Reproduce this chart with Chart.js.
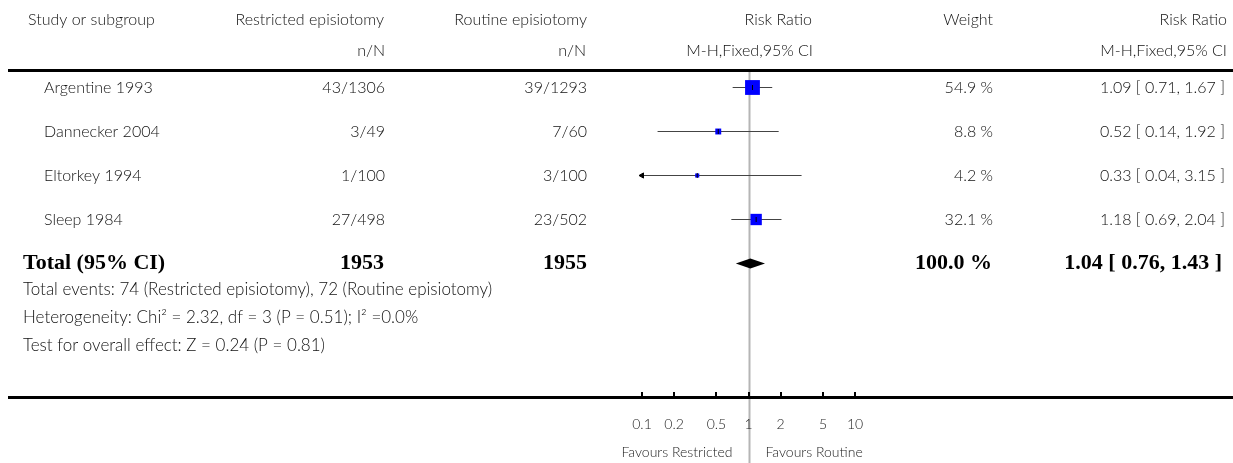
<!DOCTYPE html>
<html>
<head>
<meta charset="utf-8">
<script src="https://cdn.jsdelivr.net/npm/chart.js@4.4.1/dist/chart.umd.min.js"></script>
<style>
  body { margin: 0; background: #fff; }
  canvas { display: block; }
</style>
</head>
<body>
<canvas id="forest" width="1233" height="463"></canvas>
<script>
// study data
const studies = ['Argentine 1993', 'Dannecker 2004', 'Eltorkey 1994', 'Sleep 1984'];
const restricted = ['43/1306', '3/49', '1/100', '27/498'];
const routine = ['39/1293', '7/60', '3/100', '23/502'];
const rr = [1.09, 0.52, 0.33, 1.18];
const ciLow = [0.71, 0.14, 0.04, 0.69];
const ciHigh = [1.67, 1.92, 3.15, 2.04];
const weights = [54.9, 8.8, 4.2, 32.1];

// pooled result
const totalLabel = 'Total (95% CI)';
const totalN = ['1953', '1955'];
const totalRR = 1.04;
const totalLow = 0.76;
const totalHigh = 1.43;
const totalWeight = '100.0 %';

const footnotes = [
  'Total events: 74 (Restricted episiotomy), 72 (Routine episiotomy)',
  'Heterogeneity: Chi² = 2.32, df = 3 (P = 0.51); I² =0.0%',
  'Test for overall effect: Z = 0.24 (P = 0.81)'
];

const xTicks = [0.1, 0.2, 0.5, 1, 2, 5, 10];
const xTickLabels = ['0.1', '0.2', '0.5', '1', '2', '5', '10'];
const X_MIN = 0.1, X_MAX = 10;

const SANS = 'Lato, "Open Sans", sans-serif';
const SERIF = '"Liberation Serif", "DejaVu Serif", serif';
const TEXT = '#111';

function fmt(v) { return v.toFixed(2); }
function ciText(m, l, h) { return fmt(m) + ' [ ' + fmt(l) + ', ' + fmt(h) + ' ]'; }

// one line dataset per study CI, clipped at the axis range
const ciSets = studies.map((s, i) => ({
  type: 'line',
  data: [{ x: Math.max(ciLow[i], X_MIN), y: i }, { x: Math.min(ciHigh[i], X_MAX), y: i }],
  borderColor: '#444',
  borderWidth: 1.2,
  pointRadius: 0,
  order: 4
}));

// arrows where the CI runs past the axis
const arrowData = [];
studies.forEach((s, i) => {
  if (ciLow[i] < X_MIN) arrowData.push({ x: X_MIN, y: i, rot: -90 });
  if (ciHigh[i] > X_MAX) arrowData.push({ x: X_MAX, y: i, rot: 90 });
});

const tablePlugin = {
  id: 'table',
  beforeDatasetsDraw(chart) {
    const ctx = chart.ctx;
    const xs = chart.scales.x;
    const area = chart.chartArea;
    const x1 = Math.round(xs.getPixelForValue(1)) + 0.5;
    ctx.save();
    ctx.strokeStyle = '#b5b5b5';
    ctx.lineWidth = 2;
    ctx.beginPath();
    ctx.moveTo(x1, area.top);
    ctx.lineTo(x1, chart.height);
    ctx.stroke();
    ctx.restore();
  },
  afterDatasetsDraw(chart) {
    const ctx = chart.ctx;
    const xs = chart.scales.x;
    const ys = chart.scales.y;
    const area = chart.chartArea;
    ctx.save();

    // pooled diamond
    const dy = ys.getPixelForValue(studies.length);
    ctx.fillStyle = '#000';
    ctx.beginPath();
    ctx.moveTo(xs.getPixelForValue(totalLow), dy);
    ctx.lineTo(xs.getPixelForValue(totalRR), dy - 5);
    ctx.lineTo(xs.getPixelForValue(totalHigh), dy);
    ctx.lineTo(xs.getPixelForValue(totalRR), dy + 5);
    ctx.closePath();
    ctx.fill();

    // rules
    ctx.fillStyle = '#000';
    ctx.fillRect(8, area.top - 2, chart.width - 8, 3);
    ctx.fillRect(8, area.bottom - 1, chart.width - 8, 3);

    // axis ticks
    xTicks.forEach(t => {
      const px = Math.round(xs.getPixelForValue(t));
      ctx.fillRect(px - 1, area.bottom - 5, 2, 5);
    });

    ctx.textBaseline = 'middle';
    ctx.fillStyle = '#222';
    ctx.font = '300 14px ' + SANS;
    ctx.textAlign = 'center';
    xTicks.forEach((t, i) => {
      ctx.fillText(xTickLabels[i], xs.getPixelForValue(t), area.bottom + 27);
    });
    const x1 = xs.getPixelForValue(1);
    ctx.textAlign = 'right';
    ctx.fillText('Favours Restricted', x1 - 16, area.bottom + 55);
    ctx.textAlign = 'left';
    ctx.fillText('Favours Routine', x1 + 17, area.bottom + 55);

    // header
    ctx.fillStyle = TEXT;
    ctx.font = '300 16px ' + SANS;
    ctx.textAlign = 'left';
    ctx.fillText('Study or subgroup', 28, 20);
    ctx.textAlign = 'right';
    ctx.fillText('Restricted episiotomy', 384, 20);
    ctx.fillText('Routine episiotomy', 587, 20);
    ctx.fillText('Risk Ratio', 812, 20);
    ctx.fillText('Weight', 993, 20);
    ctx.fillText('Risk Ratio', 1227, 20);
    ctx.fillText('n/N', 385, 51);
    ctx.fillText('n/N', 586, 51);
    ctx.fillText('M-H,Fixed,95% CI', 813, 51);
    ctx.fillText('M-H,Fixed,95% CI', 1227, 51);

    // study rows
    studies.forEach((s, i) => {
      const y = ys.getPixelForValue(i);
      ctx.textAlign = 'left';
      ctx.fillText(s, 44, y);
      ctx.textAlign = 'right';
      ctx.fillText(restricted[i], 385, y);
      ctx.fillText(routine[i], 587, y);
      ctx.fillText(weights[i].toFixed(1) + ' %', 993, y);
      ctx.fillText(ciText(rr[i], ciLow[i], ciHigh[i]), 1225, y);
    });

    // total row
    const ty = ys.getPixelForValue(studies.length);
    ctx.fillStyle = '#000';
    ctx.font = 'bold 22px ' + SERIF;
    ctx.textAlign = 'left';
    ctx.fillText(totalLabel, 23, ty);
    ctx.textAlign = 'right';
    ctx.fillText(totalN[0], 384, ty);
    ctx.fillText(totalN[1], 587, ty);
    ctx.fillText(totalWeight, 992, ty);
    ctx.fillText(ciText(totalRR, totalLow, totalHigh), 1222, ty);

    // footnotes
    ctx.fillStyle = TEXT;
    ctx.font = '300 17px ' + SANS;
    ctx.textAlign = 'left';
    footnotes.forEach((f, i) => ctx.fillText(f, 23, 290 + i * 28));

    ctx.restore();
  }
};

new Chart(document.getElementById('forest'), {
  type: 'scatter',
  data: {
    datasets: [
      {
        data: rr.map((v, i) => ({ x: v, y: i })),
        pointStyle: 'line',
        rotation: 90,
        pointRadius: 2.5,
        borderColor: '#000',
        borderWidth: 1,
        order: 1
      },
      {
        data: rr.map((v, i) => ({ x: v, y: i })),
        pointStyle: 'rect',
        pointRadius: ctx => 2 * Math.sqrt(weights[ctx.dataIndex]) / Math.SQRT2,
        backgroundColor: '#0000ff',
        borderWidth: 0,
        order: 2
      },
      {
        data: arrowData,
        pointStyle: 'triangle',
        rotation: ctx => ctx.raw ? ctx.raw.rot : 0,
        pointRadius: 3,
        backgroundColor: '#000',
        borderColor: '#000',
        borderWidth: 1,
        clip: false,
        order: 3
      },
      ...ciSets
    ]
  },
  options: {
    responsive: false,
    animation: false,
    devicePixelRatio: 1,
    layout: { padding: { left: 642, right: 378, top: 71, bottom: 66 } },
    plugins: { legend: { display: false }, tooltip: { enabled: false } },
    scales: {
      x: { type: 'logarithmic', min: X_MIN, max: X_MAX, display: false },
      y: { type: 'linear', min: -0.375, max: 7.034, reverse: true, display: false }
    }
  },
  plugins: [tablePlugin]
});
</script>
</body>
</html>
